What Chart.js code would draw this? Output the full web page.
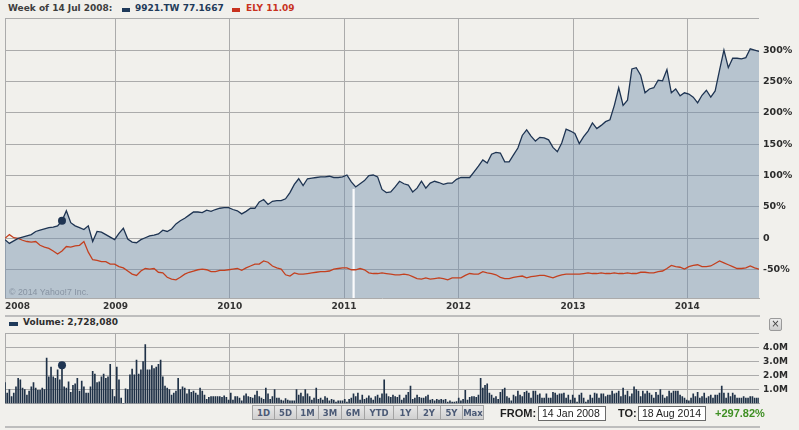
<!DOCTYPE html>
<html>
<head>
<meta charset="utf-8">
<script src="https://cdn.jsdelivr.net/npm/chart.js@4.4.1/dist/chart.umd.min.js"></script>
<style>
  html, body { margin: 0; padding: 0; }
  body { width: 799px; height: 430px; background: #f1f0ec; position: relative; overflow: hidden;
         font-family: "DejaVu Sans", Verdana, sans-serif; }
  canvas { position: absolute; left: 0; }
  #priceChart { top: 9px; }
  #volumeChart { top: 324px; }
  .abs { position: absolute; white-space: nowrap; line-height: 1; }
  .bold9 { font-size: 9px; font-weight: bold; }
  .sw { position: absolute; height: 4px; width: 8px; }
  .copy { font-family: "Liberation Sans", Arial, sans-serif; font-size: 8.8px; color: #8793a2; }
  .btn { position: absolute; top: 405px; height: 15px; line-height: 15px; text-align: center;
         font-size: 8.5px; font-weight: bold; color: #4b5a76; box-sizing: border-box;
         background: linear-gradient(#e8e8e8, #d0d0d0); border: 1px solid #a3a3a3; }
  .lbl { font-family: "Liberation Sans", Arial, sans-serif; font-size: 11px; font-weight: bold; color: #1e1e1e; }
  .box { position: absolute; top: 406px; height: 15px; box-sizing: border-box; background: #fff;
         border: 1px solid #6a6a6a; font-family: "Liberation Sans", Arial, sans-serif; font-size: 10.5px;
         color: #222; line-height: 13px; padding-left: 3px; white-space: nowrap; overflow: hidden; }
  .sep { position: absolute; left: 5px; width: 755px; height: 2px; background: #bdbdbd; }
  .close { position: absolute; left: 769px; top: 318px; width: 13px; height: 13px; box-sizing: border-box;
           border: 1px solid #9a9a9a; border-radius: 2px; background: linear-gradient(#ececec, #cdcdcd);
           font-size: 10px; line-height: 10px; text-align: center; color: #444; }
</style>
</head>
<body>
<div class="abs bold9" style="left:8px; top:4px; color:#3e3e3e;">Week of 14 Jul 2008:</div>
<div class="sw" style="left:122px; top:8px; background:#1f3a5a;"></div>
<div class="abs bold9" style="left:135px; top:4px; color:#1f3a5a;">9921.TW 77.1667</div>
<div class="sw" style="left:232px; top:8px; background:#c8321e;"></div>
<div class="abs bold9" style="left:246px; top:4px; color:#c8321e;">ELY 11.09</div>

<canvas id="priceChart" width="799" height="306"></canvas>
<div class="abs copy" style="left:9px; top:288px;">© 2014 Yahoo!7 Inc.</div>

<div class="sep" style="top:315px;"></div>
<div class="sw" style="left:9px; top:322px; width:9px; background:#1f3a5a;"></div>
<div class="abs bold9" style="left:23px; top:318px; color:#2e2e2e;">Volume: 2,728,080</div>

<canvas id="volumeChart" width="799" height="89"></canvas>
<div class="close">×</div>

<div class="btn" style="left:252px; width:23px;">1D</div>
<div class="btn" style="left:274px; width:23px;">5D</div>
<div class="btn" style="left:296px; width:23px;">1M</div>
<div class="btn" style="left:318px; width:24px;">3M</div>
<div class="btn" style="left:341px; width:24px;">6M</div>
<div class="btn" style="left:364px; width:30px;">YTD</div>
<div class="btn" style="left:393px; width:25px;">1Y</div>
<div class="btn" style="left:417px; width:24px;">2Y</div>
<div class="btn" style="left:440px; width:23px;">5Y</div>
<div class="btn" style="left:462px; width:22px;">Max</div>

<div class="abs lbl" style="left:500px; top:408px;">FROM:</div>
<div class="box" style="left:538px; width:68px;">14 Jan 2008</div>
<div class="abs lbl" style="left:618px; top:408px;">TO:</div>
<div class="box" style="left:638px; width:68px;">18 Aug 2014</div>
<div class="abs lbl" style="left:715px; top:408px; color:#3f8f24;">+297.82%</div>
<div class="sep" style="top:426px;"></div>

<script>
/* --------------- Data (weeks counted from 14 Jan 2008) --------------------- */
const startDate = Date.UTC(2008, 0, 14);
const lastWeek = 344;
const yearLabels = ["2008", "2009", "2010", "2011", "2012", "2013", "2014"];
const pctTicks = [-50, 0, 50, 100, 150, 200, 250, 300, 350];
const volTicks = [0, 1, 2, 3, 4, 5];
const markerWeek = 26;   // week of 14 Jul 2008
const gapWeek = 159;     // week with no quote (Feb 2011)

// % change, one value every 2 weeks
const priceStep = 2;
const tw9921 = [
  -2, -8, -4, 0, 2, 4, 6, 11, 13, 15,
  17, 18, 20, 28, 44, 25, 20, 17, 14, 20,
  -5, 11, 10, 6, 2, -2, 8, 16, -1, -6,
  -7, -2, 1, 4, 5, 7, 13, 11, 15, 23,
  28, 32, 37, 42, 42, 41, 45, 43, 46, 48,
  49, 49, 46, 44, 39, 43, 48, 48, 58, 62,
  54, 59, 60, 60, 63, 73, 86, 95, 84, 95,
  96, 97, 98, 98, 99, 97, 97, 98, 101, 90,
  82, 87, 92, 100, 101, 98, 78, 73, 74, 82,
  91, 87, 85, 74, 80, 91, 80, 88, 91, 89,
  86, 88, 88, 94, 97, 97, 97, 106, 115, 125,
  120, 134, 137, 136, 122, 122, 133, 144, 164, 173,
  163, 155, 161, 160, 157, 145, 138, 152, 174, 171,
  167, 151, 162, 171, 184, 175, 180, 186, 189, 212,
  240, 212, 220, 270, 272, 260, 232, 238, 240, 252,
  251, 269, 232, 238, 227, 232, 230, 225, 216, 228,
  236, 225, 235, 268, 300, 272, 287, 287, 286, 288,
  302, 300, 298
];
const ely = [
  0, 6, 1, 0, -3, -5, -6, -5, -11, -14,
  -16, -20, -25, -20, -13, -14, -12, -11, -5, -22,
  -34, -35, -37, -37, -41, -41, -45, -47, -52, -57,
  -59, -52, -48, -49, -48, -54, -55, -62, -65, -66,
  -62, -57, -54, -52, -50, -49, -50, -53, -53, -51,
  -51, -50, -49, -48, -51, -47, -44, -41, -41, -36,
  -38, -44, -47, -49, -58, -60, -55, -57, -57, -56,
  -55, -54, -53, -53, -52, -49, -48, -47, -47, -50,
  -50, -48, -50, -55, -56, -56, -55, -56, -57, -58,
  -58, -57, -58, -61, -64, -65, -63, -65, -64, -63,
  -64, -66, -63, -63, -63, -59, -56, -57, -57, -53,
  -55, -56, -58, -62, -64, -64, -62, -61, -60, -63,
  -61, -60, -59, -59, -61, -63, -60, -58, -57, -57,
  -57, -57, -56, -55, -56, -56, -55, -56, -56, -55,
  -56, -56, -55, -56, -56, -54, -54, -55, -55, -53,
  -52, -48, -43, -45, -46, -49, -45, -43, -42, -45,
  -45, -44, -40, -36, -39, -42, -45, -48, -48, -47,
  -44, -47, -49
];

// weekly volume, millions of shares
const volumes = [
  1.5, 0.75, 1.0, 0.5, 0.75, 1.2, 1.8, 1.7, 1.1, 1.0,
  0.6, 0.9, 1.2, 1.5, 1.1, 0.95, 0.95, 1.1, 1.0, 3.25,
  1.9, 2.6, 1.9, 1.8, 2.4, 1.7, 2.73, 1.2, 1.1, 1.55,
  0.8, 1.3, 1.4, 1.8, 0.9, 1.6, 1.2, 0.75, 0.75, 1.2,
  2.3, 2.1, 1.5, 1.55, 1.9, 2.1, 1.8, 1.9, 2.8, 1.0,
  0.5, 2.6, 1.7, 0.4, 0, 1.05, 1.0, 2.05, 2.45, 2.05,
  3.1, 2.1, 2.4, 3.0, 4.2, 2.4, 2.4, 2.7, 2.5, 2.6,
  2.8, 3.1, 1.9, 1.25, 1.1, 1.0, 0.6, 0.75, 0.9, 1.8,
  1.0, 1.2, 1.1, 0.7, 1.0, 0.8, 0.9, 0.75, 0.6, 1.1,
  0.9, 0.6, 0.3, 0.45, 0.5, 0.5, 0.5, 0.5, 0.5, 0.45,
  0.55, 0.45, 0.25, 0.75, 0.25, 0.5, 0.5, 0.4, 0.2, 0.55,
  0.7, 0.5, 0.45, 0.4, 0.6, 0.9, 0.5, 0.4, 0.3, 1.1,
  0.7, 0.3, 0.5, 1.0, 0.4, 0.4, 0.25, 0.2, 0.35, 0.25,
  0.2, 0.2, 0.2, 1.0, 0.6, 0.75, 0.5, 1.0, 0.7, 0.5,
  0.25, 0.4, 1.1, 0.3, 0.4, 0.25, 0.5, 0.4, 0.2, 0.3,
  0.25, 0.1, 0.2, 0.2, 0.2, 0.3, 0.1, 0.3, 0.4, 0.7,
  0.5, 0.75, 0.25, 0.6, 0.3, 0.4, 0.55, 0.4, 0.25, 0.5,
  0.6, 0.4, 0.7, 1.7, 0.7, 0.5, 0.45, 0.6, 0.5, 0.45,
  0.6, 0.25, 0.4, 0.6, 0.8, 1.25, 0.3, 0.4, 0.6, 0.45,
  0.4, 0.4, 0.5, 0.6, 0.25, 0.3, 0.2, 0.3, 0.25, 0.3,
  0.25, 0.3, 0.1, 0.2, 0.1, 0.1, 0.15, 0.4, 0.2, 0.3,
  0.95, 0.25, 0.45, 0.5, 0.5, 0.45, 0.6, 1.8, 1.1, 1.3,
  1.4, 0.75, 0.6, 0.4, 0.5, 0.3, 0.8, 1.0, 1.1, 0.5,
  0.4, 0.2, 0.6, 0.5, 0.9, 0.6, 0.5, 0.8, 0.9, 0.75,
  0.4, 0.9, 0.9, 0.6, 0.7, 0.4, 0.4, 0.7, 0.4, 0.4,
  0.8, 0.75, 0.6, 0.7, 0.7, 0.75, 0.4, 0.6, 0.25, 0.6,
  0.4, 0.1, 0.6, 0.75, 0.4, 0.1, 0.25, 0.6, 0.4, 0.75,
  0.7, 0.4, 0.7, 0.7, 0.5, 0.6, 0.6, 0.9, 0.7, 0.75,
  0.9, 0.5, 1.1, 0.6, 0.9, 0.5, 0.7, 1.2, 1.0, 0.9,
  0.5, 0.9, 0.7, 0.9, 0.75, 0.6, 0.4, 0.8, 0.6, 1.0,
  0.6, 0.4, 0.5, 0.9, 0.75, 0.9, 0.9, 0.9, 0.6, 0.5,
  0.4, 0.25, 0.2, 0.4, 0.7, 0.5, 0.8, 0.4, 0.5, 0.75,
  0.4, 0.5, 0.6, 0.4, 0.6, 0.6, 0.75, 1.25, 0.75, 0.4,
  0.75, 0.5, 0.75, 0.6, 0.4, 0.4, 0.4, 0.5, 0.4, 0.4,
  0.5, 0.5, 0.4, 0.4, 0.4
];

/* --------------- Shared bits --------------------- */
const weekMs = 7 * 24 * 3600 * 1000;
const yearWeeks = yearLabels.map((y, i) => i === 0 ? 0 : (Date.UTC(+y, 0, 1) - startDate) / weekMs);
const xTicks = yearWeeks.concat([lastWeek]);
const navy = "#1e3452";
const gridColor = "#ababab";
const axisFont = { family: "DejaVu Sans", size: 9, weight: "bold" };
const gridByTick = (c) => c.index === xTicks.length - 1 ? "rgba(0,0,0,0)" : gridColor;

const gapPlugin = {
  id: "gap",
  beforeDatasetsDraw(chart) {
    const meta = chart.getDatasetMeta(0);
    const pt = meta.data[Math.round(gapWeek / priceStep)];
    const x = chart.scales.x.getPixelForValue(gapWeek);
    const { ctx, chartArea } = chart;
    ctx.save();
    ctx.fillStyle = "rgba(255,255,255,0.92)";
    ctx.fillRect(x - 1, pt.y + 2, 2.2, chartArea.bottom - pt.y - 2);
    ctx.restore();
  }
};

/* --------------- Price Chart --------------------- */
new Chart(document.getElementById("priceChart"), {
  type: "line",
  plugins: [gapPlugin],
  data: {
    datasets: [
      {
        data: tw9921.map((v, i) => ({ x: i * priceStep, y: v })),
        borderColor: navy,
        borderWidth: 1.3,
        backgroundColor: "rgba(112,142,172,0.45)",
        fill: "start",
        tension: 0,
        pointRadius: (c) => c.dataIndex === markerWeek / priceStep ? 4 : 0,
        pointBackgroundColor: navy,
        pointBorderWidth: 0,
      },
      {
        data: ely.map((v, i) => ({ x: i * priceStep, y: v })),
        borderColor: "#c3401f",
        borderWidth: 1.3,
        fill: false,
        tension: 0,
        pointRadius: 0,
      },
    ],
  },
  options: {
    responsive: false,
    animation: false,
    events: [],
    layout: { padding: { left: 5, top: 6 } },
    plugins: {
      legend: { display: false },
      tooltip: { enabled: false },
      filler: { drawTime: "beforeDatasetsDraw" },
    },
    scales: {
      x: {
        type: "linear",
        min: 0,
        max: lastWeek,
        afterBuildTicks: (s) => { s.ticks = xTicks.map((v) => ({ value: v })); },
        afterFit: (s) => { s.height = 17; },
        grid: { color: gridByTick, drawTicks: false },
        border: { display: true, color: gridColor },
        ticks: {
          align: "inner",
          autoSkip: false,
          maxRotation: 0,
          padding: 3,
          color: "#333",
          font: axisFont,
          callback: (v, i) => yearLabels[i] || "",
        },
      },
      y: {
        position: "right",
        min: -95,
        max: 350,
        afterBuildTicks: (s) => { s.ticks = pctTicks.map((v) => ({ value: v })); },
        afterFit: (s) => { s.width = 40; },
        grid: { color: gridColor, drawTicks: false },
        border: { display: false },
        ticks: {
          autoSkip: false,
          padding: 4,
          color: "#2b2b2b",
          font: { family: "DejaVu Sans", size: 9.5, weight: "bold" },
          callback: (v) => v === 350 ? "" : v === 0 ? "0" : v + "%",
        },
      },
    },
  },
});

/* --------------- Volume Chart --------------------- */
new Chart(document.getElementById("volumeChart"), {
  type: "bar",
  data: {
    datasets: [
      {
        type: "line",
        data: [{ x: markerWeek, y: volumes[markerWeek] }],
        showLine: false,
        pointRadius: 4,
        pointBackgroundColor: navy,
        pointBorderWidth: 0,
      },
      {
        data: volumes.map((v, i) => ({ x: i, y: v })),
        backgroundColor: "#1f3147",
        barThickness: 1,
        borderWidth: 0,
      },
    ],
  },
  options: {
    responsive: false,
    animation: false,
    events: [],
    layout: { padding: { left: 5, top: 6, bottom: 2 } },
    plugins: { legend: { display: false }, tooltip: { enabled: false } },
    scales: {
      x: {
        type: "linear",
        min: 0,
        max: lastWeek,
        offset: false,
        afterBuildTicks: (s) => { s.ticks = xTicks.map((v) => ({ value: v })); },
        afterFit: (s) => { s.height = 0; },
        grid: { color: gridByTick, drawTicks: false, offset: false },
        border: { display: true, color: gridColor },
        ticks: { display: false },
      },
      y: {
        position: "right",
        min: 0,
        max: 5,
        afterBuildTicks: (s) => { s.ticks = volTicks.map((v) => ({ value: v })); },
        afterFit: (s) => { s.width = 40; },
        grid: { color: gridColor, drawTicks: false },
        border: { display: false },
        ticks: {
          autoSkip: false,
          padding: 4,
          color: "#2b2b2b",
          font: axisFont,
          callback: (v) => v === 0 || v === 5 ? "" : v.toFixed(1) + "M",
        },
      },
    },
  },
});
</script>
</body>
</html>
